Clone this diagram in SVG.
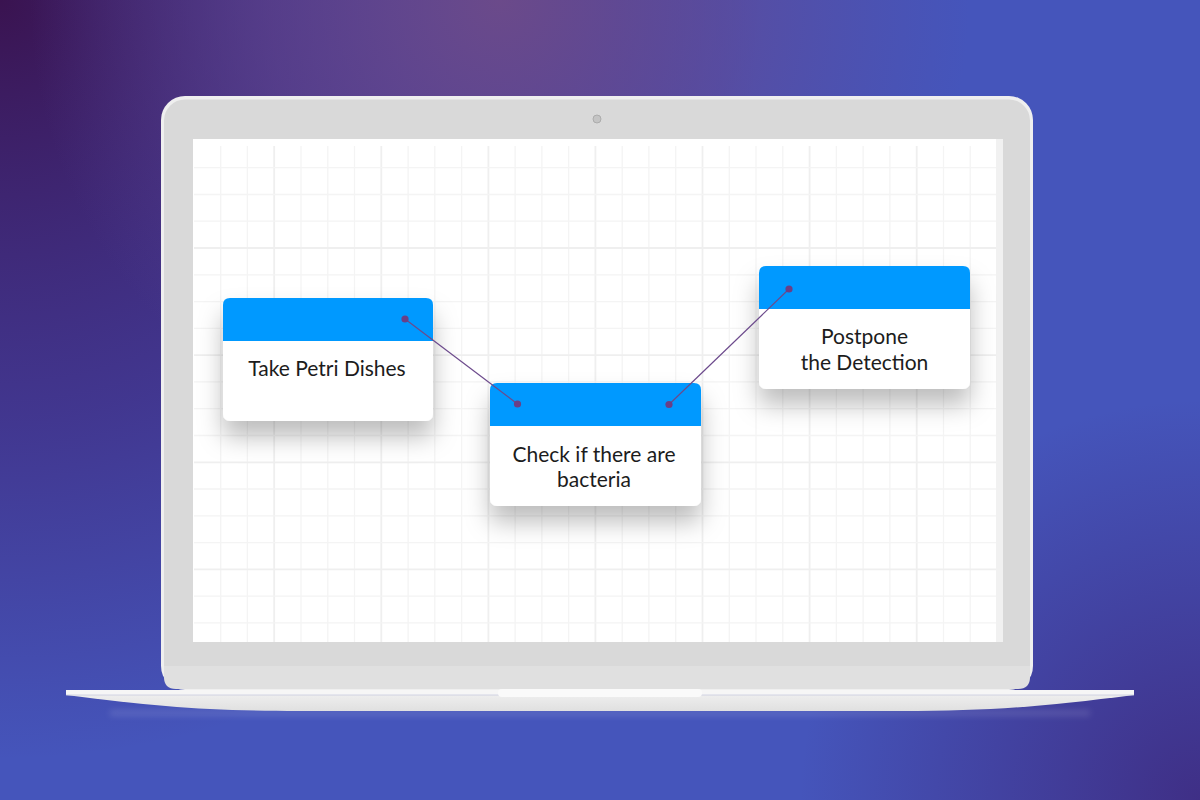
<svg xmlns="http://www.w3.org/2000/svg" width="1200" height="800" viewBox="0 0 1200 800">
  <defs>
    <radialGradient id="bgTL" cx="0" cy="0" r="760" gradientUnits="userSpaceOnUse">
      <stop offset="0" stop-color="#3a1350" stop-opacity="1"/>
      <stop offset="0.55" stop-color="#3f2272" stop-opacity="0.6"/>
      <stop offset="1" stop-color="#3f2272" stop-opacity="0"/>
    </radialGradient>
    <radialGradient id="bgTop" cx="500" cy="0" r="470" gradientUnits="userSpaceOnUse">
      <stop offset="0" stop-color="#6b4a8a" stop-opacity="1"/>
      <stop offset="0.5" stop-color="#634892" stop-opacity="0.6"/>
      <stop offset="1" stop-color="#5b4a9a" stop-opacity="0"/>
    </radialGradient>
    <radialGradient id="bgBR" cx="1200" cy="800" r="400" gradientUnits="userSpaceOnUse">
      <stop offset="0" stop-color="#3f2f86" stop-opacity="1"/>
      <stop offset="1" stop-color="#3f2f86" stop-opacity="0"/>
    </radialGradient>
    <linearGradient id="baseGrad" x1="0" y1="0" x2="0" y2="1">
      <stop offset="0" stop-color="#f2f2f2"/>
      <stop offset="1" stop-color="#e0e0e0"/>
    </linearGradient>
    <filter id="shadow" x="-40%" y="-40%" width="180%" height="200%">
      <feDropShadow dx="0" dy="16" stdDeviation="12" flood-color="#000" flood-opacity="0.26"/>
    </filter>
    <filter id="blur4" x="-10%" y="-200%" width="120%" height="500%">
      <feGaussianBlur stdDeviation="3"/>
    </filter>
    <style>
      .thin { stroke: #f4f4f4; stroke-width: 1.3; fill: none; }
      .thick { stroke: #efefef; stroke-width: 1.8; fill: none; }
      .card { fill: #ffffff; }
      .head { fill: #0099ff; }
      .lbl { font-family: Lato, "Noto Sans", "Liberation Sans", sans-serif; font-size: 21px; fill: #1c1c1c; text-anchor: middle; }
      .conn { stroke: #6c4a8c; stroke-width: 1.2; fill: none; }
      .dot { fill: #6b3f86; }
    </style>
  </defs>

  <!-- background -->
  <rect x="0" y="0" width="1200" height="800" fill="#4555bb"/>
  <rect x="0" y="0" width="1200" height="800" fill="url(#bgTL)"/>
  <rect x="0" y="0" width="1200" height="800" fill="url(#bgTop)"/>
  <rect x="0" y="0" width="1200" height="800" fill="url(#bgBR)"/>

  <!-- laptop base reflection -->
  <rect x="110" y="710" width="980" height="6" fill="#ffffff" opacity="0.12" filter="url(#blur4)"/>

  <!-- laptop base -->
  <path d="M66,690 L1134,690 L1134,695 C1040,707 990,711 900,711 L300,711 C210,711 160,707 66,695 Z" fill="url(#baseGrad)"/>
  <rect x="66" y="690" width="1068" height="5" fill="#f6f6f6"/>
  <line x1="66" y1="695" x2="1134" y2="695" stroke="#c9cbe0" stroke-width="0.8"/>

  <!-- laptop lid -->
  <rect x="161" y="96" width="872" height="594" rx="24" ry="24" fill="#efefef"/>
  <rect x="164" y="99.5" width="866" height="588" rx="21" ry="21" fill="#d9d9d9"/>
  <path d="M164,666 L1030,666 L1030,677 Q1030,689 1018,689 L176,689 Q164,689 164,677 Z" fill="#e0e0e0"/>

  <!-- notch -->
  <rect x="498" y="689" width="204" height="8" rx="4" fill="#fafafa"/>

  <!-- camera -->
  <circle cx="597" cy="119" r="4" fill="#c4c4c4" stroke="#acacac" stroke-width="1"/>

  <!-- screen -->
  <rect x="193" y="139" width="810" height="503" fill="#ffffff"/>
  <rect x="996" y="139" width="7" height="503" fill="#f1f1f1"/>

  <!-- grid -->
  <g id="grid">
    <path class="thin" d="M220.7,146V642M247.4,146V642M301,146V642M327.8,146V642M354.5,146V642M408.1,146V642M434.8,146V642M461.6,146V642M515.1,146V642M541.9,146V642M568.6,146V642M622.2,146V642M648.9,146V642M675.7,146V642M729.3,146V642M756,146V642M782.8,146V642M836.4,146V642M863.1,146V642M889.9,146V642M943.5,146V642M970.2,146V642"/>
    <path class="thick" d="M274.2,146V642M381.3,146V642M488.4,146V642M595.4,146V642M702.5,146V642M809.6,146V642M916.7,146V642"/>
    <path class="thin" d="M194,167.7H996M194,194.5H996M194,221.2H996M194,274.8H996M194,301.6H996M194,328.4H996M194,381.9H996M194,408.7H996M194,435.5H996M194,489H996M194,515.8H996M194,542.6H996M194,596.2H996M194,622.9H996"/>
    <path class="thick" d="M194,248H996M194,355.1H996M194,462.3H996M194,569.4H996"/>
  </g>

  <!-- nodes -->
  <g id="node-take-petri-dishes">
    <g filter="url(#shadow)">
      <rect class="card" x="223" y="298" width="210" height="123" rx="7"/>
    </g>
    <path class="head" d="M223,341 V305 Q223,298 230,298 H426 Q433,298 433,305 V341 Z"/>
    <text class="lbl" x="327" y="376">Take Petri Dishes</text>
  </g>

  <g id="node-check-bacteria">
    <g filter="url(#shadow)">
      <rect class="card" x="490" y="383" width="211" height="123" rx="7"/>
    </g>
    <path class="head" d="M490,426 V390 Q490,383 497,383 H694 Q701,383 701,390 V426 Z"/>
    <text class="lbl" x="594" y="461.5">Check if there are</text>
    <text class="lbl" x="594" y="486.5">bacteria</text>
  </g>

  <g id="node-postpone">
    <g filter="url(#shadow)">
      <rect class="card" x="759" y="266" width="211" height="123" rx="7"/>
    </g>
    <path class="head" d="M759,309 V273 Q759,266 766,266 H963 Q970,266 970,273 V309 Z"/>
    <text class="lbl" x="864.5" y="343.5">Postpone</text>
    <text class="lbl" x="864.5" y="369.5">the Detection</text>
  </g>

  <!-- connectors -->
  <g id="connectors">
    <line class="conn" x1="405" y1="319" x2="517.5" y2="404"/>
    <line class="conn" x1="669" y1="404.5" x2="789" y2="289"/>
    <circle class="dot" cx="405" cy="319" r="3.6"/>
    <circle class="dot" cx="517.5" cy="404" r="3.6"/>
    <circle class="dot" cx="669" cy="404.5" r="3.6"/>
    <circle class="dot" cx="789" cy="289" r="3.6"/>
  </g>
</svg>
